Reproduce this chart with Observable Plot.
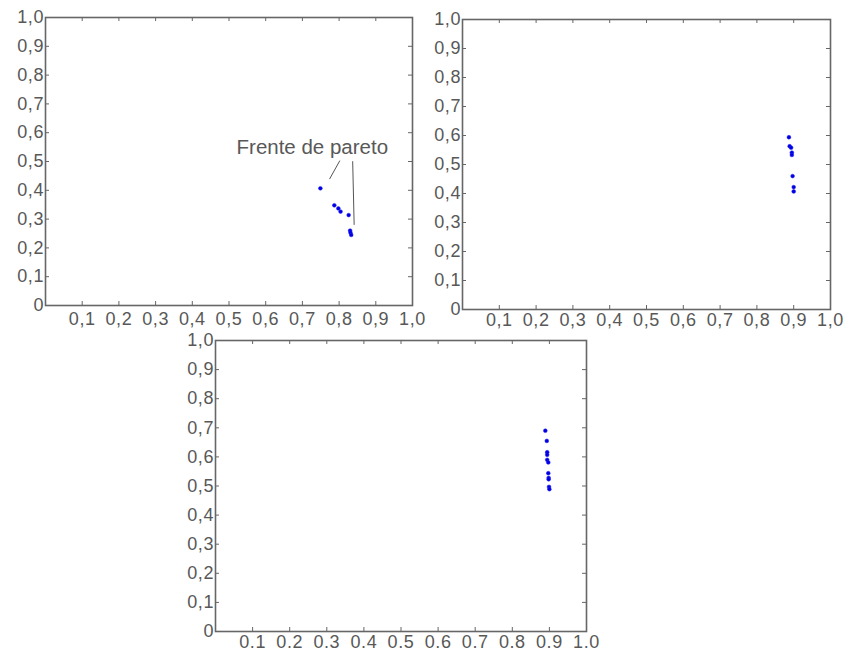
<!DOCTYPE html>
<html>
<head>
<meta charset="utf-8">
<script src="https://cdn.jsdelivr.net/npm/d3@7"></script>
<script src="https://cdn.jsdelivr.net/npm/@observablehq/plot@0.6"></script>
<style>
  html, body { margin: 0; padding: 0; background: #fff; overflow: hidden; }
  #wrap { position: relative; width: 845px; height: 652px; }
  #wrap > div { position: absolute; }
  #wrap svg .ticklabel text, #wrap svg text.ticklabel { letter-spacing: 0.6px; }
</style>
</head>
<body>
<div id="wrap">
  <div id="p1" style="left:0px; top:0px;"></div>
  <div id="p2" style="left:400px; top:0px;"></div>
  <div id="p3" style="left:150px; top:330px;"></div>
</div>
<script>
// ---- Data ----
const panel1X = [0.749, 0.787, 0.798, 0.804, 0.826, 0.830, 0.831, 0.833];
const panel1Y = [0.407, 0.348, 0.337, 0.326, 0.314, 0.260, 0.253, 0.245];

const panel2X = [0.887, 0.889, 0.893, 0.895, 0.895, 0.897, 0.900, 0.900];
const panel2Y = [0.594, 0.563, 0.558, 0.541, 0.533, 0.460, 0.422, 0.407];

const panel3X = [0.889, 0.893, 0.894, 0.894, 0.894, 0.897, 0.897, 0.898, 0.898, 0.899, 0.900];
const panel3Y = [0.690, 0.655, 0.616, 0.607, 0.590, 0.581, 0.544, 0.528, 0.523, 0.497, 0.489];

const innerTicks = [0.1, 0.2, 0.3, 0.4, 0.5, 0.6, 0.7, 0.8, 0.9];
const xTickValues = [0.1, 0.2, 0.3, 0.4, 0.5, 0.6, 0.7, 0.8, 0.9, 1.0];
const xTickLabelsComma = ["0,1","0,2","0,3","0,4","0,5","0,6","0,7","0,8","0,9","1,0"];
const xTickLabelsDot = ["0.1","0.2","0.3","0.4","0.5","0.6","0.7","0.8","0.9","1.0"];
const yTickValues = [0, 0.1, 0.2, 0.3, 0.4, 0.5, 0.6, 0.7, 0.8, 0.9, 1.0];
const yTickLabels = ["0","0,1","0,2","0,3","0,4","0,5","0,6","0,7","0,8","0,9","1,0"];

const annotationText = [{label: "Frente de pareto", x: 0.727, y: 0.55}];
const annotationLines = [
  {x1: 0.802, y1: 0.503, x2: 0.774, y2: 0.439},
  {x1: 0.837, y1: 0.501, x2: 0.841, y2: 0.280}
];

// ---- Drawing ----
function zip(xs, ys) { return xs.map((x, i) => ({x, y: ys[i]})); }

const FONT = "'Liberation Sans', Arial, sans-serif";
const TEXT = "#585858";
const TICKFONT = 18;

function panel({xs, ys, ml, mt, w, h, mb, mr, xLabels, padX, extra = []}) {
  const axisColor = "#666";
  const xl = xTickValues.map((v, i) => ({v, t: xLabels[i]}));
  const yl = yTickValues.map((v, i) => ({v, t: yTickLabels[i]}));
  return Plot.plot({
    width: ml + w + mr,
    height: mt + h + mb,
    marginLeft: ml, marginTop: mt, marginBottom: mb, marginRight: mr,
    style: {fontFamily: FONT, fontSize: TICKFONT + "px", color: TEXT, background: "transparent", overflow: "visible"},
    x: {domain: [0, 1], axis: null},
    y: {domain: [0, 1], axis: null},
    marks: [
      Plot.tickX(innerTicks, {x: d => d, insetTop: h - 4, stroke: axisColor, strokeWidth: 1}),
      Plot.tickX(innerTicks, {x: d => d, insetBottom: h - 4, stroke: axisColor, strokeWidth: 1}),
      Plot.tickY(innerTicks, {y: d => d, insetRight: w - 4, stroke: axisColor, strokeWidth: 1}),
      Plot.tickY(innerTicks, {y: d => d, insetLeft: w - 4, stroke: axisColor, strokeWidth: 1}),
      Plot.frame({stroke: axisColor, strokeWidth: 1.6}),
      Plot.text(xl, {x: "v", text: "t", frameAnchor: "bottom", lineAnchor: "top", dy: padX, fill: TEXT, fontSize: TICKFONT, className: "ticklabel"}),
      Plot.text(yl, {y: "v", text: "t", frameAnchor: "left", textAnchor: "end", dx: -1.5, fill: TEXT, fontSize: TICKFONT, className: "ticklabel"}),
      Plot.dot(zip(xs, ys), {x: "x", y: "y", r: 1.9, fill: "#0000dd", stroke: "#2222ff", strokeWidth: 0.5}),
      ...extra
    ]
  });
}

document.getElementById("p1").appendChild(panel({
  xs: panel1X, ys: panel1Y, ml: 45, mt: 17, w: 367, h: 288, mb: 35, mr: 18,
  xLabels: xTickLabelsComma, padX: 7,
  extra: [
    Plot.link(annotationLines, {x1: "x1", y1: "y1", x2: "x2", y2: "y2", stroke: "#555", strokeWidth: 1}),
    Plot.text(annotationText, {x: "x", y: "y", text: "label", fill: TEXT, fontSize: 20.5})
  ]
}));

document.getElementById("p2").appendChild(panel({
  xs: panel2X, ys: panel2Y, ml: 62, mt: 19, w: 368, h: 290, mb: 31, mr: 14,
  xLabels: xTickLabelsComma, padX: 4
}));

document.getElementById("p3").appendChild(panel({
  xs: panel3X, ys: panel3Y, ml: 65, mt: 10, w: 371, h: 291, mb: 22, mr: 16,
  xLabels: xTickLabelsDot, padX: 4
}));
</script>
</body>
</html>
